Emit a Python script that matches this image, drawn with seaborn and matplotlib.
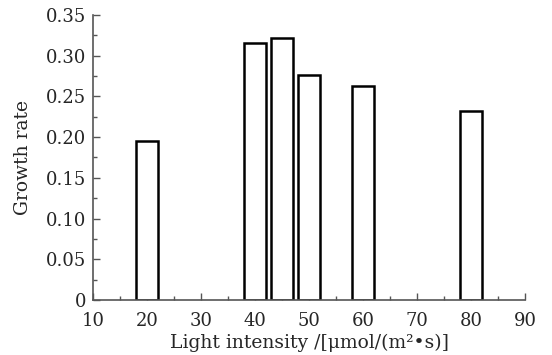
import pandas as pd
import matplotlib
matplotlib.use('Agg')
import matplotlib.pyplot as plt
import seaborn as sns
from matplotlib.ticker import MultipleLocator

# Data
light = [20, 40, 45, 50, 60, 80]
growth = [0.195, 0.316, 0.322, 0.276, 0.263, 0.232]

df = pd.DataFrame({'light': light, 'growth': growth})

sns.set_style('ticks')
plt.rcParams['font.family'] = ['DejaVu Serif']

fig = plt.figure(figsize=(5.52, 3.55), dpi=100)
ax = fig.add_axes([0.169, 0.155, 0.782, 0.803])

sns.barplot(data=df, x='light', y='growth', native_scale=True, width=0.8,
            color='white', edgecolor='black', linewidth=1.8, ax=ax)

ax.set_xlim(10, 90)
ax.set_ylim(0, 0.35)
ax.xaxis.set_major_locator(MultipleLocator(10))
ax.xaxis.set_minor_locator(MultipleLocator(5))
ax.yaxis.set_minor_locator(MultipleLocator(0.025))
ax.set_yticks([0, 0.05, 0.10, 0.15, 0.20, 0.25, 0.30, 0.35])
ax.set_yticklabels(['0', '0.05', '0.10', '0.15', '0.20', '0.25', '0.30', '0.35'])

ax.tick_params(which='both', direction='in', color='#555555', labelsize=13)
ax.tick_params(axis='x', pad=9)
ax.tick_params(axis='y', pad=5)
ax.tick_params(which='major', length=5, width=1)
ax.tick_params(which='minor', length=3, width=1)
for s in ['top', 'right']:
    ax.spines[s].set_visible(False)
for s in ['left', 'bottom']:
    ax.spines[s].set_color('#555555')
    ax.spines[s].set_linewidth(1.2)

ax.set_xlabel('Light intensity /[μmol/(m²•s)]', fontsize=13.5, labelpad=2)
ax.set_ylabel('Growth rate', fontsize=13.5, labelpad=10)

fig.savefig('out.png', dpi=100)
